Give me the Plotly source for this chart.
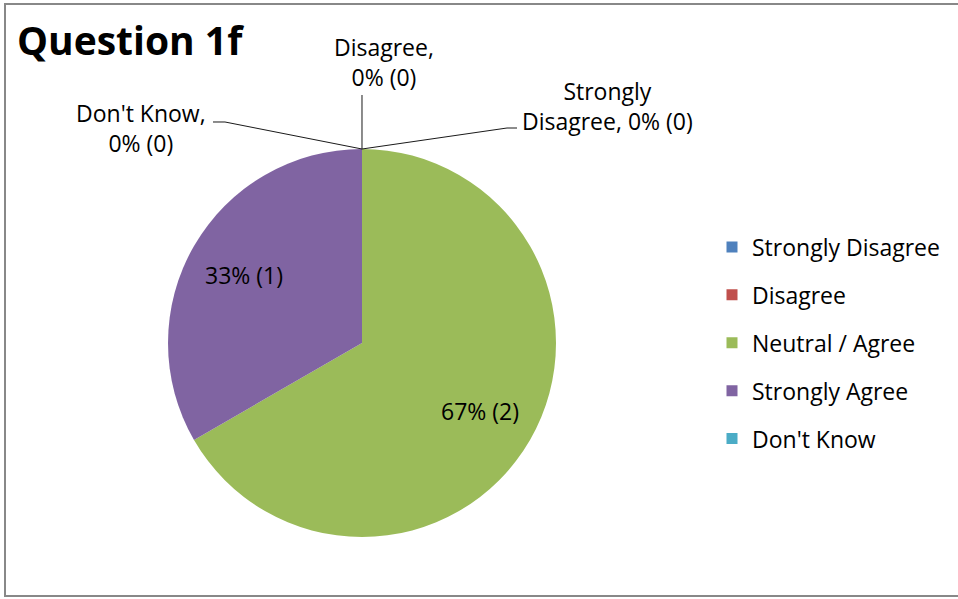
import math
import plotly.graph_objects as go

# ---- data ----
categories = ["Strongly Disagree", "Disagree", "Neutral / Agree", "Strongly Agree", "Don't Know"]
counts = [0, 0, 2, 1, 0]
colors = ["#4F81BD", "#C0504D", "#9BBB59", "#8064A2", "#4BACC6"]
title_text = "Question 1f"

W, H = 958, 599
FONT = "Open Sans, sans-serif"
FS = 23

total = sum(counts)
pct = [round(100 * c / total) for c in counts]

# pie geometry (pixels) -> paper domain
cx, top, bottom = 362, 149, 537
r = (bottom - top) / 2
cy = (top + bottom) / 2
dom_x = [(cx - r) / W, (cx + r) / W]
dom_y = [1 - bottom / H, 1 - top / H]

px_x = lambda v: v / W
px_y = lambda v: 1 - v / H

fig = go.Figure()
fig.add_trace(go.Pie(
    labels=categories,
    values=counts,
    marker=dict(colors=colors, line=dict(width=0)),
    sort=False,
    direction="clockwise",
    rotation=0,
    textinfo="none",
    domain=dict(x=dom_x, y=dom_y),
    showlegend=False,
    hoverinfo="label+percent+value",
))

# inside data labels, placed from the cumulative slice angles
cum = 0
for lab, c, p in zip(categories, counts, pct):
    if c > 0:
        mid = (cum + c / 2) / total * 2 * math.pi
        lx = cx + 0.70 * r * math.sin(mid)
        ly = cy - 0.70 * r * math.cos(mid)
        fig.add_annotation(
            x=px_x(lx), y=px_y(ly), xref="paper", yref="paper",
            text=f"{p}% ({c})", showarrow=False, xanchor="center", yanchor="middle",
            font=dict(family=FONT, size=FS, color="#000000"),
        )
    cum += c

# legend entries (one group each so spacing can be controlled)
for i, (lab, col) in enumerate(zip(categories, colors)):
    fig.add_trace(go.Scatter(
        x=[None], y=[None], mode="markers", name=lab,
        marker=dict(symbol="square", size=11, color=col),
        legendgroup=f"g{i}", showlegend=True, hoverinfo="skip",
    ))

# labels for zero-value slices with leader lines
zero_labels = {
    1: dict(x=384, y=62, text=f"{categories[1]},<br>{pct[1]}% ({counts[1]})"),
    4: dict(x=141, y=128, text=f"{categories[4]},<br>{pct[4]}% ({counts[4]})"),
    0: dict(x=607, y=106, text=f"Strongly<br>{categories[0].split()[1]}, {pct[0]}% ({counts[0]})"),
}
for k, a in zero_labels.items():
    fig.add_annotation(
        x=px_x(a["x"]), y=px_y(a["y"]), xref="paper", yref="paper",
        text=a["text"], showarrow=False, xanchor="center", yanchor="middle",
        font=dict(family=FONT, size=FS, color="#000000"), align="center",
    )

leader_paths = [
    [(cx, top), (cx, 95)],
    [(cx, top), (225, 122), (213, 122)],
    [(cx, top), (507, 128), (517, 128)],
]
for pts in leader_paths:
    d = "M " + " L ".join(f"{px_x(x):.5f},{px_y(y):.5f}" for x, y in pts)
    fig.add_shape(type="path", path=d, xref="paper", yref="paper",
                  line=dict(color="#1a1a1a", width=1))

# chart border
fig.add_shape(type="rect", xref="paper", yref="paper",
              x0=px_x(5), x1=px_x(962), y0=px_y(596), y1=px_y(4),
              line=dict(color="#888888", width=2), fillcolor="rgba(0,0,0,0)", layer="below")

fig.add_annotation(
    x=px_x(15), y=px_y(40), xref="paper", yref="paper", text=f"<b>{title_text}</b>",
    showarrow=False, xanchor="left", yanchor="middle",
    font=dict(family=FONT, size=39, color="#000000"),
)

fig.update_layout(
    width=W, height=H,
    margin=dict(l=0, r=0, t=0, b=0),
    paper_bgcolor="white", plot_bgcolor="white",
    xaxis=dict(visible=False), yaxis=dict(visible=False),
    legend=dict(
        x=px_x(712), y=px_y(343), xanchor="left", yanchor="middle",
        font=dict(family=FONT, size=FS, color="#000000"),
        tracegroupgap=15, traceorder="grouped", itemwidth=30,
        bgcolor="rgba(0,0,0,0)",
    ),
    font=dict(family=FONT),
)

fig.write_html("out.html", config={"displayModeBar": False},
               post_script="document.body.style.margin='0';document.body.style.overflow='hidden';")
